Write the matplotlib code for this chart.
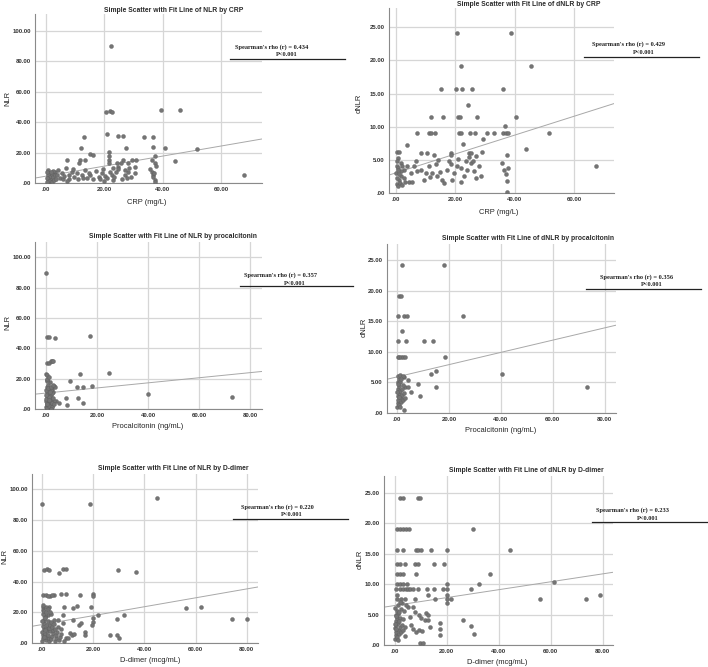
import matplotlib
matplotlib.use("Agg")
import matplotlib.pyplot as plt
from matplotlib.lines import Line2D
from matplotlib.ticker import FuncFormatter

# ---- data (x, y) ----
nlr_by_crp = [
    (22.2, 90.2), (20.5, 46.9), (22.0, 47.4), (22.7, 46.9), (39.5, 48.0), (46.0, 47.7),
    (13.0, 30.0), (20.8, 32.0), (24.6, 31.0), (26.2, 31.0), (33.4, 30.0), (36.5, 30.0),
    (11.9, 22.8), (27.3, 22.8), (36.5, 23.5), (40.8, 22.8), (51.6, 22.5),
    (15.2, 19.0), (16.2, 18.6), (21.7, 20.6), (37.2, 18.0), (44.3, 14.7), (67.7, 5.3),
    (7.3, 14.9), (11.7, 14.9), (13.4, 14.9), (29.6, 14.9), (30.9, 14.9),
    (21.4, 17.5), (21.4, 15.2), (21.4, 13.0), (26.4, 14.9), (25.7, 13.0), (11.4, 13.0),
    (24.2, 13.0), (24.5, 10.7), (24.8, 9.0), (24.0, 7.5), (28.1, 13.0), (28.4, 9.8),
    (36.3, 15.1), (37.4, 13.0), (37.6, 11.2),
    (3.1, 7.4), (4.2, 8.6), (5.4, 6.4), (6.7, 9.7), (7.7, 5.3), (8.8, 7.5), (9.7, 4.2),
    (10.5, 6.4), (12.2, 5.3), (13.4, 8.6), (13.9, 3.1), (15.1, 5.3), (16.2, 2.4),
    (18.0, 4.2), (19.1, 6.8), (20.2, 4.6), (20.8, 3.1), (21.9, 7.5), (22.5, 5.3),
    (23.1, 2.0), (27.1, 5.3), (27.7, 3.1), (28.2, 7.5), (30.5, 10.8), (30.5, 6.4),
    (36.3, 7.5), (36.5, 5.3), (36.8, 3.7), (37.4, 2.0), (37.2, 0.5),
    (0.6, 8.6), (1.0, 6.8), (0.8, 5.3), (1.4, 4.2), (0.6, 2.4), (1.7, 2.0), (1.9, 5.9),
    (2.2, 8.1), (1.3, 0.9), (2.5, 3.7), (2.9, 5.3), (0.3, 7.5), (0.2, 3.5), (1.1, 1.6),
    (2.0, 0.6), (2.7, 1.8), (0.4, 0.4), (1.6, 7.2), (3.4, 2.8), (4.6, 3.6), (5.8, 2.3),
    (6.2, 4.8), (8.0, 2.8), (9.2, 8.9), (11.0, 2.4), (12.6, 3.6), (14.6, 6.8), (17.2, 7.6),
    (18.6, 2.7), (19.6, 9.2), (20.0, 1.5), (22.8, 9.6), (23.4, 4.0), (26.0, 2.4),
    (27.0, 8.8), (29.2, 4.2), (35.6, 9.2), (37.0, 6.4), (3.8, 5.0), (7.0, 1.2),
]

dnlr_by_crp = [
    (20.7, 24.1), (38.9, 24.1), (21.8, 19.1), (45.4, 19.1),
    (15.0, 15.7), (20.1, 15.7), (22.2, 15.7), (25.6, 15.7), (36.1, 15.7), (24.2, 13.3),
    (11.7, 11.5), (15.9, 11.5), (20.8, 11.5), (21.5, 11.5), (27.2, 11.5), (40.3, 11.5),
    (36.8, 10.1), (7.2, 9.0), (11.1, 9.0), (11.9, 9.0), (13.1, 9.0),
    (21.2, 9.0), (21.8, 9.0), (24.8, 9.0), (26.7, 9.0), (30.6, 9.0), (33.1, 9.0),
    (36.1, 9.0), (37.0, 9.0), (37.8, 9.0), (51.5, 9.0), (29.4, 8.1), (3.6, 7.3),
    (22.4, 7.4), (43.8, 6.7), (0.2, 6.2), (0.9, 6.2), (8.3, 6.1), (10.3, 6.1),
    (18.4, 6.1), (18.4, 5.8), (24.6, 6.1), (25.4, 6.1), (28.9, 6.2), (12.8, 5.7),
    (37.3, 5.7), (26.9, 5.6), (67.5, 4.0),
    (0.8, 5.3), (1.6, 4.5), (0.4, 4.0), (0.1, 3.0), (1.0, 2.0), (0.4, 1.3), (1.8, 2.5),
    (2.1, 4.0), (2.7, 3.5), (3.8, 4.0), (4.9, 3.0), (6.1, 4.0), (7.2, 3.3), (8.3, 3.5),
    (10.0, 3.0), (11.1, 4.0), (12.2, 3.0), (13.4, 4.3), (13.9, 2.5), (15.6, 2.0),
    (17.3, 3.5), (18.4, 4.3), (19.6, 3.0), (20.7, 4.0), (21.8, 3.8), (22.9, 2.5),
    (24.0, 3.5), (25.2, 4.5), (26.3, 3.3), (28.0, 4.0), (28.5, 2.5), (35.8, 4.5),
    (36.4, 3.5), (37.0, 2.8), (37.3, 1.8), (37.8, 3.8), (37.5, 0.1),
    (0.5, 1.0), (1.2, 1.5), (0.2, 2.2), (1.5, 3.3), (0.8, 3.8), (2.5, 2.3), (3.0, 1.6),
    (4.2, 1.6), (5.5, 1.6), (0.3, 4.8), (9.5, 2.0), (16.0, 1.5), (22.0, 1.7), (27.0, 2.3),
    (1.0, 2.8), (0.6, 3.5), (2.0, 1.2), (6.6, 4.9), (14.0, 5.0), (18.0, 4.8), (21.0, 5.2),
    (14.8, 3.2), (19.0, 2.0), (23.5, 4.9), (26.0, 4.8), (24.5, 5.4), (11.5, 2.4),
]

nlr_by_pct = [
    (0.0, 89.9), (0.4, 47.6), (1.2, 47.6), (3.6, 46.9), (17.2, 47.8),
    (0.5, 30.0), (1.2, 30.5), (1.8, 31.5), (2.2, 31.8), (2.8, 31.3),
    (0.0, 22.8), (0.4, 22.4), (13.3, 22.8), (24.9, 23.5), (9.6, 18.2),
    (12.2, 14.3), (14.5, 14.3), (18.0, 15.1), (7.9, 7.5), (12.5, 7.0), (14.5, 4.2),
    (8.2, 2.6), (40.1, 9.6), (73.1, 8.1), (4.0, 5.2), (5.0, 3.8), (3.3, 5.0),
    (2.5, 13.5), (3.0, 15.0), (3.5, 14.2), (2.8, 11.0),
    (0.1, 1.0), (0.3, 2.5), (0.5, 4.0), (0.2, 5.5), (0.7, 7.0), (0.4, 8.5), (0.9, 10.0),
    (0.6, 11.5), (1.1, 13.0), (0.3, 14.5), (0.8, 16.0), (1.4, 17.5), (0.5, 19.0),
    (1.6, 1.5), (1.9, 3.0), (1.2, 4.5), (2.1, 6.0), (1.5, 7.5), (1.8, 9.0), (2.3, 10.5),
    (1.0, 12.0), (2.5, 2.0), (0.0, 6.5), (1.3, 8.0), (0.9, 3.5), (1.7, 5.0), (2.0, 12.5),
    (0.2, 9.5), (0.6, 0.5), (1.1, 2.0), (2.4, 4.0), (2.8, 7.0), (0.3, 18.5), (0.6, 19.5),
    (1.0, 21.0), (0.2, 12.2), (0.7, 14.0), (1.5, 11.0), (2.2, 1.0), (1.2, 6.2), (0.4, 3.0),
    (1.9, 14.5), (2.6, 15.5), (2.0, 0.3), (3.2, 3.2),
]

dnlr_by_pct = [
    (1.8, 24.1), (17.9, 24.1), (0.9, 19.1), (1.6, 19.1),
    (0.3, 15.8), (2.5, 15.8), (3.7, 15.8), (25.5, 15.8), (2.0, 13.4),
    (0.3, 11.7), (3.4, 11.7), (10.3, 11.7), (13.8, 11.7),
    (0.3, 9.15), (0.9, 9.15), (1.6, 9.15), (2.2, 9.15), (2.9, 9.15), (18.4, 9.2),
    (12.9, 6.3), (14.9, 6.9), (4.2, 5.4), (8.2, 4.8), (3.2, 4.2), (4.2, 4.2), (15.0, 4.2),
    (5.5, 3.5), (8.8, 2.7), (2.6, 0.5), (40.4, 6.3), (73.2, 4.2), (2.5, 5.8),
    (0.1, 1.0), (0.3, 1.6), (0.5, 2.2), (0.2, 2.8), (0.6, 3.3), (0.4, 3.9), (0.8, 4.4),
    (0.3, 5.0), (0.7, 5.6), (0.2, 6.1), (1.0, 6.2), (1.3, 5.1), (1.1, 3.6), (1.4, 2.5),
    (1.6, 1.8), (1.9, 3.0), (2.1, 4.5), (2.4, 2.2), (1.7, 4.0), (0.9, 1.3), (2.8, 3.3),
    (0.5, 4.7), (1.2, 0.9), (0.0, 3.4), (2.2, 6.0), (1.5, 5.5), (0.6, 2.6), (3.0, 2.4),
]

nlr_by_dd = [
    (0.0, 90.2), (18.6, 90.2), (44.8, 94.1),
    (0.9, 47.8), (1.8, 48.0), (2.6, 47.8), (6.8, 45.5), (8.1, 48.1), (9.2, 48.1),
    (29.7, 47.7), (36.9, 46.4),
    (0.5, 31.3), (1.6, 31.1), (3.1, 30.9), (4.8, 31.1), (7.5, 31.6), (9.2, 31.6),
    (15.0, 31.3), (19.9, 31.8), (19.9, 30.3), (2.4, 30.8), (3.9, 31.0),
    (0.5, 23.7), (2.9, 23.3), (0.3, 21.6), (1.5, 23.5), (8.5, 23.7), (12.0, 23.1),
    (13.7, 24.2), (19.0, 23.7), (21.7, 18.1), (29.4, 15.5), (32.2, 18.5),
    (56.2, 22.7), (62.2, 23.3), (74.2, 15.3), (80.1, 15.3),
    (8.1, 18.3), (12.0, 15.0), (14.6, 11.8), (15.3, 12.9), (19.9, 16.1), (19.9, 13.9),
    (19.7, 11.8), (17.0, 7.4), (17.0, 5.2), (26.4, 5.2), (29.3, 5.2), (30.1, 3.1),
    (11.0, 6.5), (11.6, 5.0), (9.4, 3.3), (10.1, 3.3), (12.7, 5.9), (6.1, 10.7),
    (7.5, 8.9), (8.1, 12.9), (2.2, 18.4), (3.5, 18.6), (1.0, 17.6), (4.6, 14.9),
    (0.1, 1.0), (0.3, 3.0), (0.5, 5.0), (0.2, 7.0), (0.7, 9.0), (0.4, 11.0), (0.9, 13.0),
    (0.6, 15.0), (1.1, 17.0), (0.3, 19.0), (1.4, 2.0), (1.7, 4.0), (1.2, 6.0), (2.0, 8.0),
    (1.5, 10.0), (1.9, 12.0), (2.3, 14.0), (1.0, 16.0), (2.6, 1.5), (2.8, 3.5), (2.5, 5.5),
    (3.0, 7.5), (2.7, 9.5), (3.3, 11.5), (3.6, 13.5), (3.4, 2.5), (3.9, 4.5), (4.2, 6.5),
    (4.5, 8.5), (4.0, 10.5), (5.0, 1.0), (5.3, 3.0), (5.6, 5.0), (6.0, 7.0), (5.2, 9.0),
    (6.5, 2.0), (7.0, 4.0), (7.4, 6.0), (0.8, 21.0), (1.6, 20.0), (2.2, 22.0), (0.2, 14.0),
    (1.3, 8.2), (0.6, 4.2), (8.5, 1.5), (4.8, 12.4), (3.0, 20.5), (0.4, 25.0), (6.3, 15.0),
]

dnlr_by_dd = [
    (1.8, 24.1), (3.1, 24.1), (8.8, 24.1), (9.7, 24.1),
    (0.8, 19.1), (2.1, 19.1), (3.1, 19.1), (4.2, 19.1), (5.3, 19.1), (29.9, 19.1),
    (0.8, 15.7), (3.1, 15.7), (8.2, 15.7), (8.8, 15.7), (10.0, 15.7), (13.8, 15.7),
    (20.1, 15.7), (44.2, 15.7),
    (0.8, 13.4), (1.8, 13.4), (3.7, 13.4), (7.8, 13.4), (8.8, 13.4), (15.1, 13.4), (19.0, 13.4),
    (0.8, 11.6), (1.8, 11.6), (3.3, 11.6), (8.2, 11.6), (36.6, 11.7),
    (0.8, 10.1), (2.1, 10.1), (3.3, 10.1), (4.6, 10.1), (20.1, 10.1), (32.2, 10.1), (61.4, 10.3),
    (0.4, 9.15), (2.1, 9.15), (3.3, 9.15), (4.2, 9.15), (5.0, 9.15), (5.9, 9.15), (6.8, 9.15),
    (8.8, 9.15), (12.3, 9.15), (14.9, 9.15), (18.7, 9.15), (20.1, 9.15), (29.4, 9.15),
    (0.8, 8.2), (12.7, 8.2), (20.1, 8.2), (79.0, 8.2),
    (0.8, 7.5), (2.5, 7.5), (3.7, 7.5), (7.8, 7.5), (15.5, 7.5), (20.1, 7.5), (21.7, 7.5),
    (55.9, 7.5), (73.5, 7.5), (20.1, 6.9),
    (26.4, 4.1), (29.2, 3.2), (30.5, 1.8), (17.4, 3.7), (17.4, 2.6), (17.4, 1.6),
    (6.8, 6.3), (7.6, 5.5), (9.1, 4.9), (10.1, 4.4), (11.7, 4.1), (12.9, 4.1), (13.6, 3.0),
    (12.1, 5.3), (12.6, 4.9), (9.7, 0.3), (11.0, 0.4), (5.2, 6.2), (5.8, 4.6), (6.3, 3.3),
    (7.1, 2.6), (8.2, 2.2), (9.4, 2.4), (10.6, 2.3),
    (0.1, 1.0), (0.3, 1.6), (0.5, 2.2), (0.2, 2.8), (0.6, 3.3), (0.4, 3.9), (0.8, 4.4),
    (0.3, 5.0), (0.7, 5.6), (0.2, 6.1), (1.0, 6.6), (1.3, 5.1), (1.1, 3.6), (1.4, 2.5),
    (1.6, 1.8), (1.9, 3.0), (2.1, 4.5), (2.4, 2.2), (1.7, 4.0), (0.9, 1.3), (2.8, 3.3),
    (0.5, 4.7), (1.2, 0.9), (0.0, 3.4), (2.2, 6.0), (1.5, 5.5), (0.6, 2.6), (3.0, 2.4),
    (3.3, 4.2), (3.6, 5.6), (4.0, 3.0), (4.3, 6.5), (2.6, 6.9), (1.9, 7.0), (3.8, 1.5),
]

fit_intercepts = [4.5, 3.05, 10.5, 5.9, 12.0, 6.5]
fit_slopes = [0.33, 0.142, 0.168, 0.10, 0.29, 0.065]

rho_values = ["0.434", "0.429", "0.357", "0.356", "0.220", "0.233"]
y_names = ["NLR", "dNLR", "NLR", "dNLR", "NLR", "dNLR"]
x_names = ["CRP", "CRP", "procalcitonin", "procalcitonin", "D-dimer", "D-dimer"]
x_labels = ["CRP (mg/L)", "CRP (mg/L)", "Procalcitonin (ng/mL)", "Procalcitonin (ng/mL)",
            "D-dimer (mcg/mL)", "D-dimer (mcg/mL)"]

# ---- layout in pixels of the 708x667 canvas ----
W, H = 708, 667
panels = [
    # axes box (l, t, r, b), xlim, ylim, title xy, xlabel xy, ylabel xy, text xy, line (x0, x1, y)
    dict(box=(35, 14, 262, 183), xlim=(-3.8, 74), ylim=(0, 111), xt=[0, 20, 40, 60],
         yt=[0, 20, 40, 60, 80, 100], title=(174, 10), xl=(147, 202), yl=(8, 98),
         txt=(272, 47), line=(230, 345, 59)),
    dict(box=(389, 8, 614, 193), xlim=(-2.4, 73.5), ylim=(0, 27.9), xt=[0, 20, 40, 60],
         yt=[0, 5, 10, 15, 20, 25], title=(529, 4), xl=(499, 212), yl=(359, 103),
         txt=(629, 44), line=(584, 699, 57)),
    dict(box=(35, 242, 262, 409), xlim=(-4.3, 84.7), ylim=(0, 110), xt=[0, 20, 40, 60, 80],
         yt=[0, 20, 40, 60, 80, 100], title=(173, 237), xl=(148, 427), yl=(8, 322),
         txt=(280, 275), line=(240, 353, 286)),
    dict(box=(387, 244, 616, 413), xlim=(-3.9, 84.4), ylim=(0, 27.6), xt=[0, 20, 40, 60, 80],
         yt=[0, 5, 10, 15, 20, 25], title=(528, 238), xl=(501, 430), yl=(364, 327),
         txt=(637, 277), line=(586, 701, 289)),
    dict(box=(32, 474, 258, 643), xlim=(-3.9, 84.4), ylim=(0, 110), xt=[0, 20, 40, 60, 80],
         yt=[0, 20, 40, 60, 80, 100], title=(173, 469), xl=(150, 660), yl=(5, 557),
         txt=(277, 507), line=(233, 348, 519)),
    dict(box=(384, 476, 613, 645), xlim=(-4.2, 84), ylim=(0, 27.8), xt=[0, 20, 40, 60, 80],
         yt=[0, 5, 10, 15, 20, 25], title=(526, 471), xl=(497, 663), yl=(360, 559),
         txt=(633, 510), line=(592, 708, 522)),
]
datasets = [nlr_by_crp, dnlr_by_crp, nlr_by_pct, dnlr_by_pct, nlr_by_dd, dnlr_by_dd]


def spss_fmt(v, pos):
    s = f"{v:.2f}"
    return s[1:] if s.startswith("0") else s


def fx(px):
    return px / W


def fy(py):
    return 1 - py / H


plt.rcParams['font.family'] = ['Liberation Sans', 'DejaVu Sans']
fig = plt.figure(figsize=(W / 100, H / 100), dpi=100)
fig.patch.set_facecolor("white")

for i, p in enumerate(panels):
    l, t, r, b = p["box"]
    ax = fig.add_axes([fx(l), fy(b), (r - l) / W, (b - t) / H])
    pts = datasets[i]
    xs = [q[0] for q in pts]
    ys = [q[1] for q in pts]
    ax.set_xlim(*p["xlim"])
    ax.set_ylim(*p["ylim"])
    ax.set_xticks(p["xt"])
    ax.set_yticks(p["yt"])
    ax.grid(True, color="#d6d6d6", lw=0.9)
    ax.set_axisbelow(True)
    ax.scatter(xs, ys, s=8, color="#747474", edgecolors="#5e5e5e", linewidths=0.3, zorder=3)
    x0, x1 = p["xlim"]
    ax.plot([x0, x1], [fit_intercepts[i] + fit_slopes[i] * x0, fit_intercepts[i] + fit_slopes[i] * x1],
            color="#a8a8a8", lw=0.7, zorder=2)
    for side in ["top", "right"]:
        ax.spines[side].set_visible(False)
    for side in ["left", "bottom"]:
        ax.spines[side].set_color("#8a8a8a")
        ax.spines[side].set_linewidth(0.8)
    ax.xaxis.set_major_formatter(FuncFormatter(spss_fmt))
    ax.yaxis.set_major_formatter(FuncFormatter(spss_fmt))
    ax.tick_params(length=0, labelsize=4.3, labelcolor="#333333", pad=3)
    for lab in ax.get_xticklabels() + ax.get_yticklabels():
        lab.set_fontweight("bold")

    fig.text(fx(p["title"][0]), fy(p["title"][1]),
             f"Simple Scatter with Fit Line of {y_names[i]} by {x_names[i]}",
             ha="center", va="center", fontsize=4.9, fontweight="bold", color="#2a2a2a")
    fig.text(fx(p["xl"][0]), fy(p["xl"][1]), x_labels[i], ha="center", va="center",
             fontsize=5.4, color="#222222")
    fig.text(fx(p["yl"][0]), fy(p["yl"][1]), y_names[i], ha="center", va="center",
             fontsize=5.4, color="#222222", rotation=90)

    tx, ty = p["txt"]
    fig.text(fx(tx), fy(ty), f"Spearman's rho (r) = {rho_values[i]}", ha="center", va="center",
             fontsize=4.6, family="Liberation Serif", fontweight="bold", color="#222222")
    fig.text(fx(tx + 15), fy(ty + 8), "P<0.001", ha="center", va="center",
             fontsize=4.6, family="Liberation Serif", fontweight="bold", color="#222222")
    lx0, lx1, ly = p["line"]
    fig.add_artist(Line2D([fx(lx0), fx(lx1)], [fy(ly), fy(ly)], color="#222222", lw=0.9))

fig.savefig("out.png", dpi=100, facecolor="white")
